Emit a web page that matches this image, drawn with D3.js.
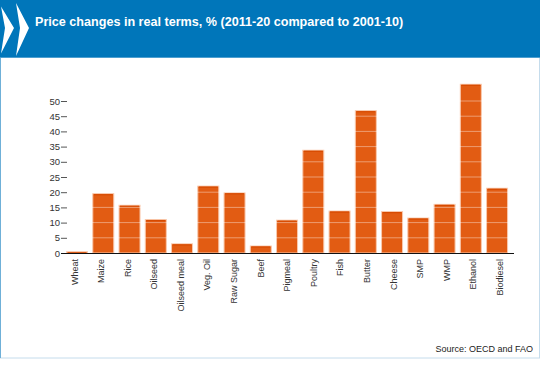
<!DOCTYPE html>
<html><head><meta charset="utf-8">
<script src="https://cdn.jsdelivr.net/npm/d3@7"></script>
<style>html,body{margin:0;padding:0;background:#fff}svg{display:block}text{font-family:"Liberation Sans",Arial,sans-serif}</style>
</head><body><svg id="c" width="544" height="365"></svg>
<script>
const categories=["Wheat","Maize","Rice","Oilseed","Oilseed meal","Veg. Oil","Raw Sugar","Beef","Pigmeal","Poultry","Fish","Butter","Cheese","SMP","WMP","Ethanol","Biodiesel"];
const values=[0.4,19.5,15.7,11,3,22,19.8,2.3,10.8,33.8,13.8,46.8,13.6,11.5,16,55.5,21.3];
const yTicks=[0,5,10,15,20,25,30,35,40,45,50];
const titleText="Price changes in real terms, % (2011-20 compared to 2001-10)";
const sourceText="Source: OECD and FAO";

const svg=d3.select("#c");
// frame
svg.append("rect").attr("x",0.5).attr("y",0.5).attr("width",539).attr("height",357.5).attr("fill","#fff").attr("stroke","#c5dcec");
svg.append("rect").attr("x",0).attr("y",0).attr("width",540).attr("height",57).attr("fill","#0076ba");
svg.append("rect").attr("x",0).attr("y",57).attr("width",540).attr("height",1).attr("fill","#4d9fd0");
svg.append("rect").attr("x",0).attr("y",58).attr("width",1).attr("height",300).attr("fill","#6fb0d8");
// logo chevrons
svg.append("path").attr("fill","#fff").attr("d","M1,6.5 L14,28 L1,53.5 L5,28 Z");
svg.append("path").attr("fill","#fff").attr("d","M16,3 L29,28 L16,56 L20,28 Z");
svg.append("text").attr("x",35).attr("y",26).attr("fill","#fff").attr("font-size",12.6).attr("font-weight","bold").text(titleText);

const x=d3.scaleBand().domain(categories).range([63.9,510.2]).paddingInner(0.2).paddingOuter(0.1);
const y=d3.scaleLinear().domain([0,50]).range([253,101]);
const labelX=d3.scalePoint().domain(categories).range([77.5,503]);

svg.append("g").selectAll("rect").data(categories).join("rect")
  .attr("x",d=>x(d)).attr("width",x.bandwidth())
  .attr("y",(d,i)=>y(values[i])).attr("height",(d,i)=>y(0)-y(values[i]))
  .attr("fill","#e25c13").attr("stroke","#f9c9ad").attr("stroke-width",1);
svg.append("g").selectAll("path").data(categories).join("path")
  .attr("d",(d,i)=>`M${x(d)+1},${y(values[i])+1}H${x(d)+x.bandwidth()-1}`)
  .attr("stroke","#d64a00").attr("stroke-width",1.2);
// white gridlines through the bars
svg.append("g").selectAll("line").data(yTicks.filter(t=>t>0)).join("line")
  .attr("x1",64).attr("x2",511).attr("y1",d=>y(d)).attr("y2",d=>y(d))
  .attr("stroke","#fff").attr("stroke-opacity",0.4).attr("stroke-width",1);

// y axis
const ga=svg.append("g").attr("transform","translate(67,0)")
  .call(d3.axisLeft(y).tickValues(yTicks).tickSize(6).tickPadding(1));
ga.select(".domain").remove();
ga.selectAll("line").attr("stroke","#555");
ga.selectAll("text").attr("font-size",9.5).attr("fill","#333").style("font-family",'"Liberation Sans",Arial,sans-serif');
// baseline
svg.append("line").attr("x1",61).attr("x2",514).attr("y1",253.5).attr("y2",253.5).attr("stroke","#111").attr("stroke-width",1);
// x labels
svg.append("g").selectAll("text").data(categories).join("text")
  .attr("transform",d=>`translate(${labelX(d)},259) rotate(-90)`)
  .attr("text-anchor","end").attr("font-size",9).attr("fill","#333").text(d=>d);
svg.append("text").attr("x",533).attr("y",352).attr("text-anchor","end").attr("font-size",9).attr("fill","#222").text(sourceText);
</script></body></html>
